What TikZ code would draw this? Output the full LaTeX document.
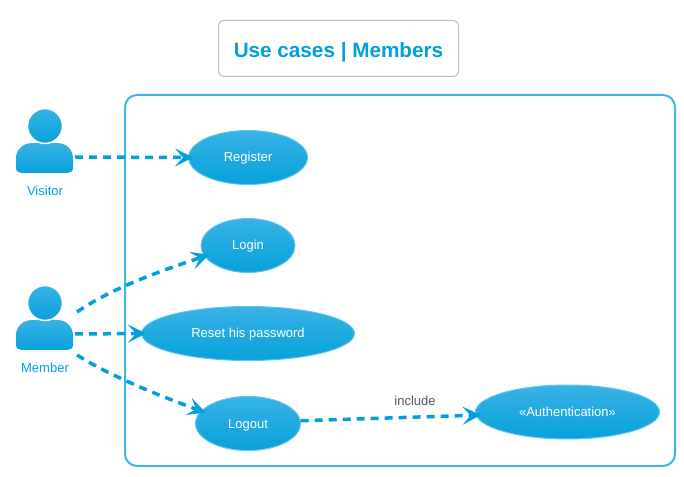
\documentclass[tikz,border=0pt]{standalone}
\usepackage{fontspec}
\setmainfont{Liberation Sans}
\usetikzlibrary{arrows.meta, shapes.geometric}
\definecolor{umlblue}{HTML}{00A0DC}
\definecolor{umltop}{HTML}{38B3E5}
\definecolor{umlbottom}{HTML}{08A1DC}
\definecolor{umledge}{HTML}{3FB5E6}
\definecolor{umlrim}{HTML}{62C4EC}
\definecolor{umlgrey}{HTML}{BDBDBD}
\definecolor{umltext}{HTML}{555555}
\tikzset{
    usecase/.style={ellipse, draw=umlrim, line width=1pt, top color=umltop, bottom color=umlbottom,
        text=white, inner sep=0pt, minimum height=54pt, text height=11.5pt, text depth=2.5pt,
        font=\fontsize{13}{15}\selectfont},
    head/.style={circle, draw=white, line width=1.5pt, top color=umltop, bottom color=umlbottom,
        inner sep=0pt, minimum size=35pt},
    actorname/.style={text=umlblue, font=\fontsize{13}{15}\selectfont},
    dep/.style={draw=umlblue, line width=3.5pt, dash pattern=on 8pt off 6pt, shorten >=-5pt,
        -{Stealth[inset=8pt,length=18pt,width=18pt]}},
}

\begin{document}
\begin{tikzpicture}[x=1pt, y=1pt, node distance=88pt]
        \useasboundingbox (0,0) rectangle (684,476);

        % system boundary and title
        \draw[umledge, line width=2pt, rounded corners=12pt] (125,10) rectangle (675,381);
        \node (title) [draw=umlgrey, line width=1pt, rounded corners=5pt, minimum width=240pt, minimum height=56pt,
            text height=22pt, text depth=4pt, text=umlblue, font=\fontsize{20.7}{24}\selectfont\bfseries]
            at (338.5,427.5) {Use cases | Members};

        % actors
        \foreach \name/\ypos/\who in {visitor/303/Visitor, member/126/Member} {
            \begin{scope}[shift={(0,\ypos)}]
                \shade[top color=umltop, bottom color=umlbottom] (16,5) .. controls (16,1.5) and (19,0) .. (22,0)
                    -- (67,0) .. controls (70,0) and (73,1.5) .. (73,5) -- (73,14)
                    .. controls (73,23) and (67,30) .. (57,30) -- (33,30)
                    .. controls (22,30) and (16,23) .. (16,14) -- cycle;
                \node (\name-head) [head] at (45,47) {};
                \node (\name-label) [actorname] at (45,-18) {\who};
                \coordinate (\name-ne) at (77,38);
                \coordinate (\name-e) at (75,16);
                \coordinate (\name-se) at (77,-5);
            \end{scope}
        }

        % use cases
        \node (register) [usecase, minimum width=119pt] at (248,318.5) {Register};
        \node (login) [usecase, minimum width=94pt, below of=register] {Login};
        \node (reset) [usecase, minimum width=213pt, below of=login] {Reset his password};
        \node (logout) [usecase, minimum width=105pt, below of=reset, node distance=90pt] {Logout};
        \node (auth) [usecase, minimum width=184pt] at (567.5,64) {«Authentication»};
        \node (include) [text=umltext, font=\fontsize{13}{15}\selectfont] at (415,75) {include};

        \draw[dep] (visitor-e) -- (register.west);
        \draw[dep] (member-ne) .. controls (110,187) and (160,205) .. (login.194);
        \draw[dep] (member-e) -- (reset.west);
        \draw[dep] (member-se) .. controls (110,100) and (160,80) .. (logout.165);
        \draw[dep] (logout.3) -- (auth.182);
    \end{tikzpicture}
\end{document}
